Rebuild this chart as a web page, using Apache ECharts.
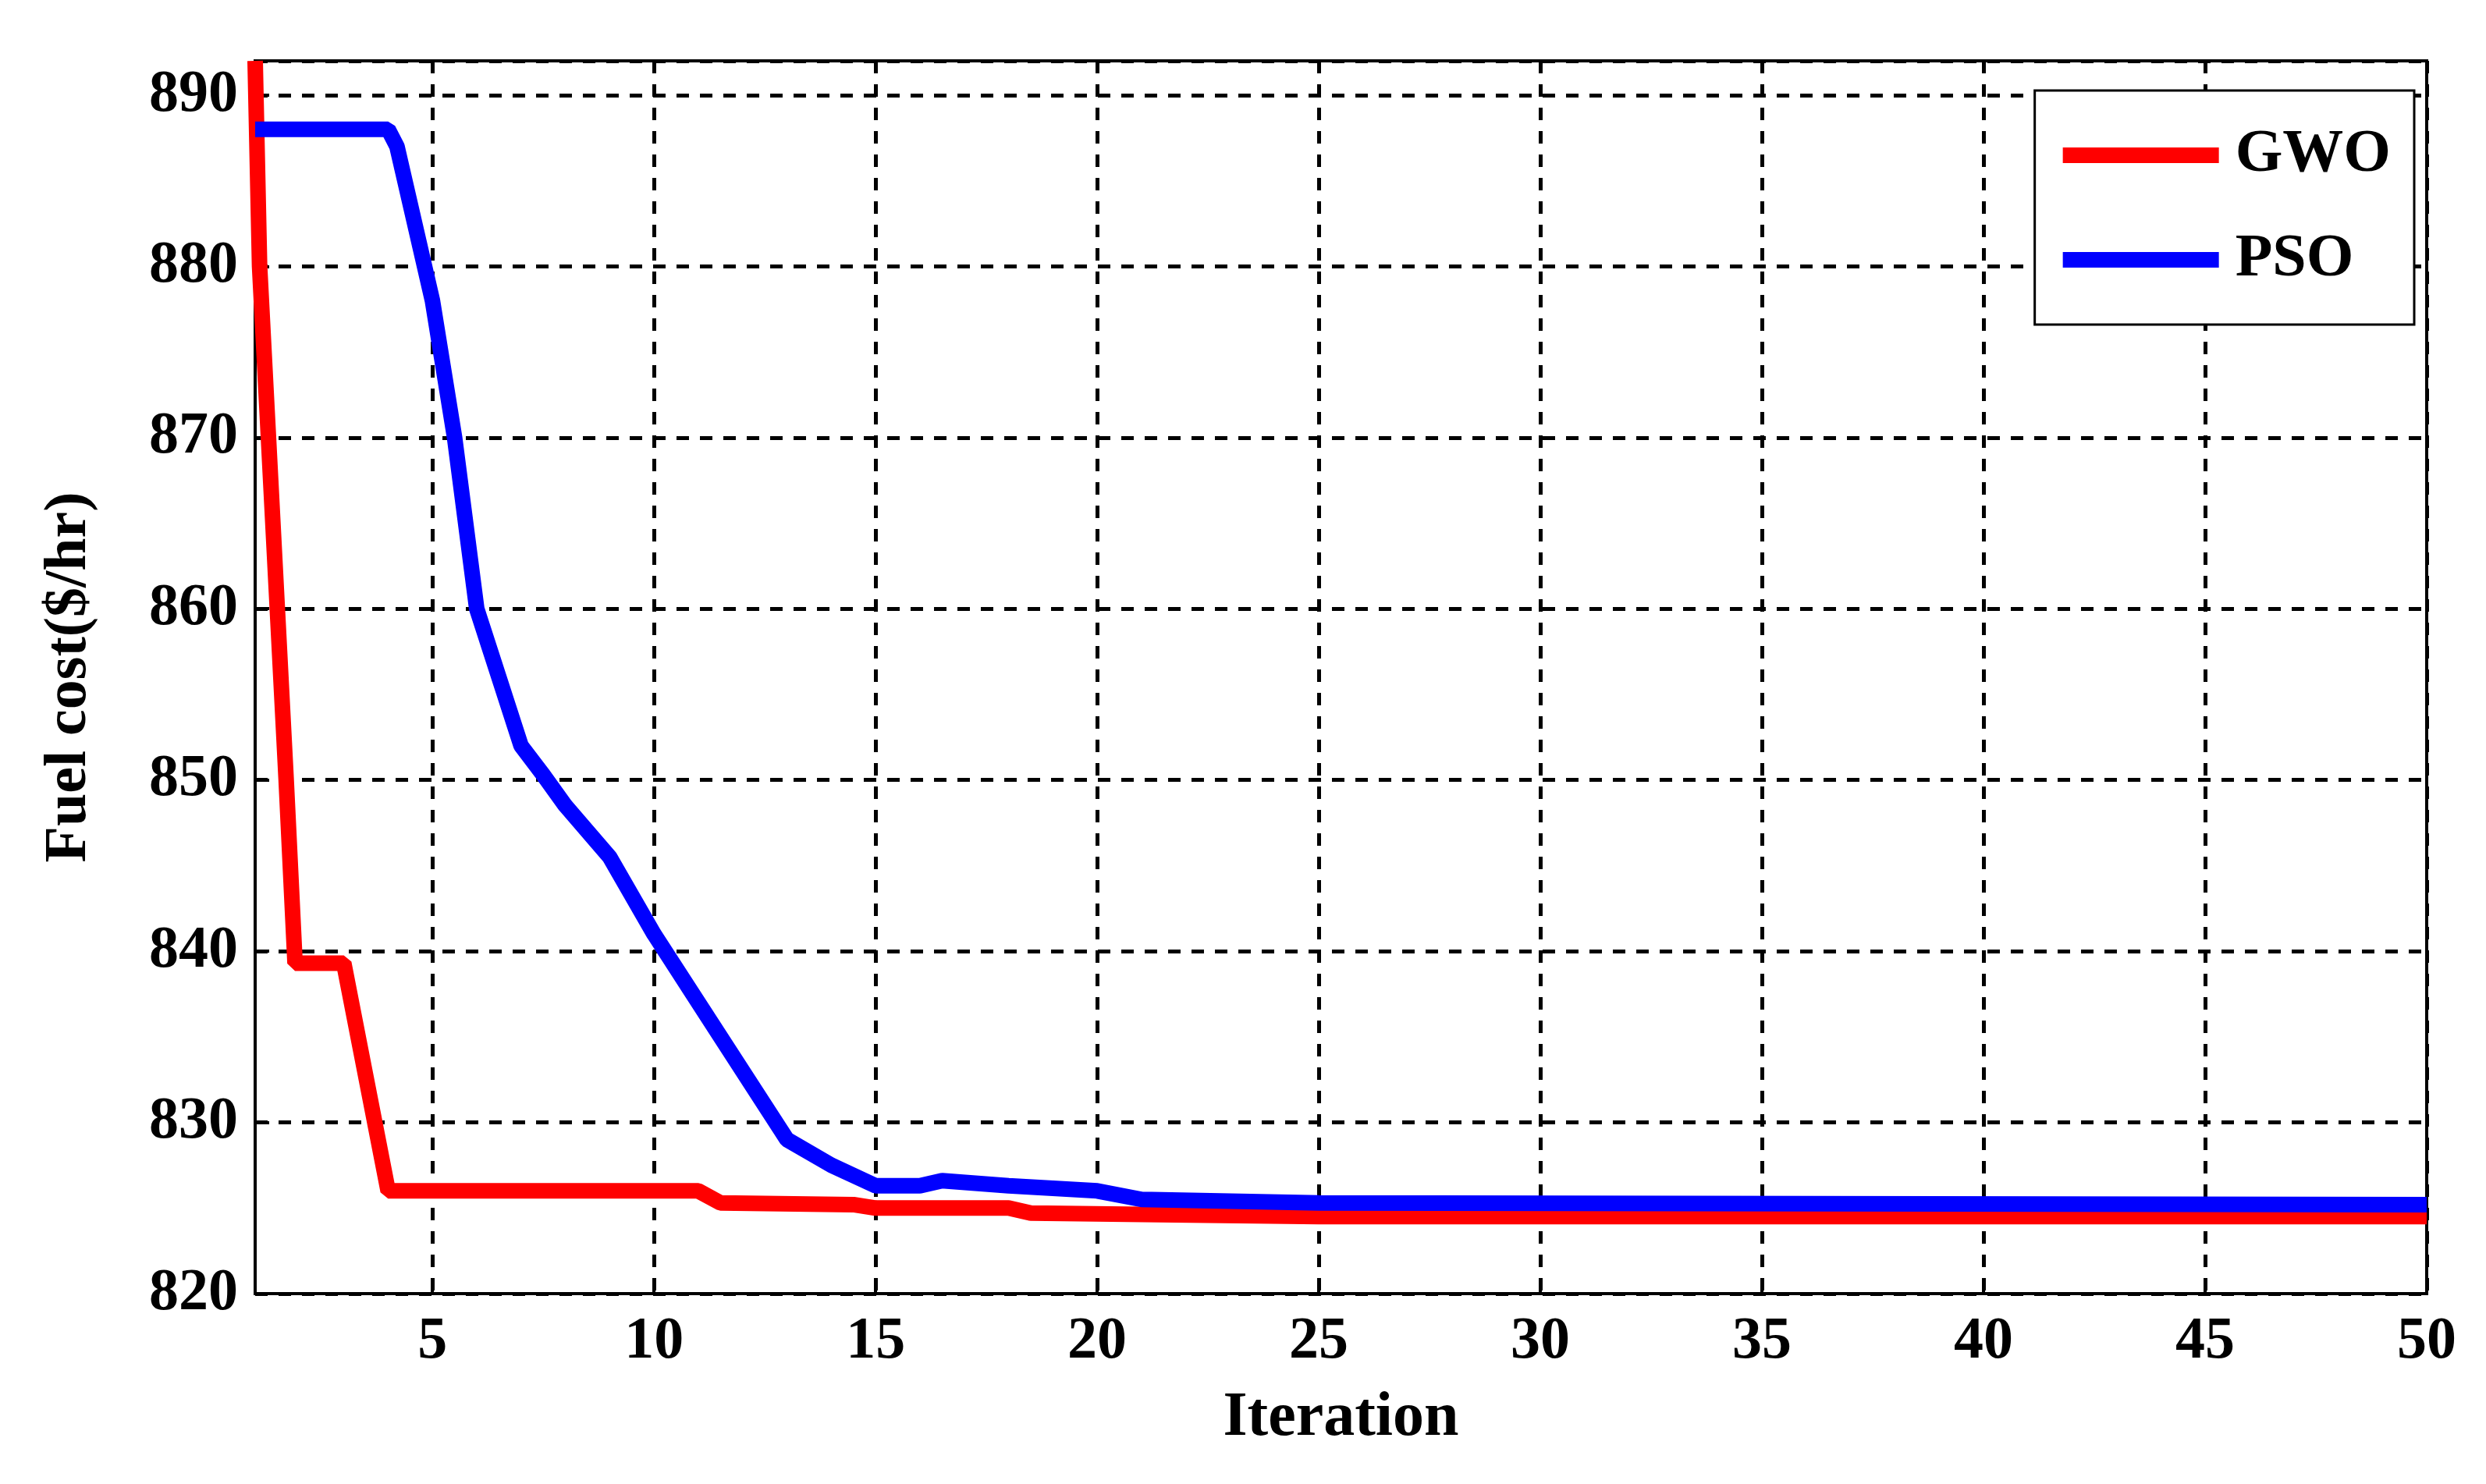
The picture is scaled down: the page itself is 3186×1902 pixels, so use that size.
<!DOCTYPE html>
<html><head><meta charset="utf-8">
<script src="https://cdn.jsdelivr.net/npm/echarts@6/dist/echarts.min.js"></script>
<style>html,body{margin:0;background:#fff}#chart{width:3186px;height:1902px}</style>
</head><body><div id="chart"></div>
<script>
// GWO convergence (iteration, cost)
var gwoIter = [1, 1.1, 1.3, 1.5, 1.7, 1.9, 3, 4, 11, 11.5, 14.5, 15, 18, 18.5, 25, 50];
var gwoCost = [892, 880, 870, 860, 850, 839.3, 839.3, 826, 826, 825.3, 825.2, 825, 825, 824.7, 824.5, 824.5];
// PSO convergence
var psoIter = [1, 4, 4.2, 5, 5.5, 6, 6.5, 7, 7.5, 8, 8.5, 9, 10, 11, 12, 13, 14, 15, 16, 16.5, 18, 20, 21, 25, 50];
var psoCost = [888, 888, 887, 878, 870, 860, 856, 852, 850.3, 848.5, 847, 845.5, 841, 837, 833, 829, 827.5, 826.3, 826.3, 826.6, 826.3, 826, 825.5, 825.3, 825.2];
var xTicks = [5, 10, 15, 20, 25, 30, 35, 40, 45, 50];

function pairs(xs, ys){
    var out = [];
    for (var i = 0; i < xs.length; i++) out.push([xs[i], ys[i]]);
    return out;
}

var font = '"Liberation Serif", "DejaVu Serif", serif';
var myChart = echarts.init(document.getElementById('chart'));
myChart.setOption({
    animation: false,
    backgroundColor: '#fff',
    grid: { left: 327, right: 76, top: 78, bottom: 244, show: true, borderColor: '#000', borderWidth: 4 },
    legend: {
        orient: 'vertical', right: 92, top: 116,
        backgroundColor: '#fff', borderColor: '#000', borderWidth: 3,
        padding: [44, 30, 44, 36], itemGap: 56,
        itemWidth: 200, itemHeight: 20,
        textStyle: { fontFamily: font, fontWeight: 'bold', fontSize: 78, color: '#000', padding: [0, 0, 0, 16] },
        data: [{ name: 'GWO', icon: 'rect' }, { name: 'PSO', icon: 'rect' }]
    },
    xAxis: {
        type: 'value', min: 1, max: 50,
        name: 'Iteration', nameLocation: 'middle', nameGap: 120,
        nameTextStyle: { fontFamily: font, fontWeight: 'bold', fontSize: 80, color: '#000' },
        axisLine: { lineStyle: { color: '#000', width: 4 } },
        axisTick: { inside: true, length: 18, customValues: xTicks, lineStyle: { color: '#000', width: 4 } },
        axisLabel: { customValues: xTicks, margin: 24, fontFamily: font, fontWeight: 'bold', fontSize: 76, color: '#000' },
        splitLine: { show: true, lineStyle: { color: '#000', width: 5, type: [16, 14] } }
    },
    yAxis: {
        type: 'value', min: 820, max: 892, interval: 10,
        name: 'Fuel cost($/hr)', nameLocation: 'middle', nameGap: 200,
        nameTextStyle: { fontFamily: font, fontWeight: 'bold', fontSize: 76, color: '#000' },
        axisLine: { lineStyle: { color: '#000', width: 4 } },
        axisTick: { inside: true, length: 18, lineStyle: { color: '#000', width: 4 } },
        axisLabel: { showMaxLabel: false, margin: 22, fontFamily: font, fontWeight: 'bold', fontSize: 76, color: '#000' },
        splitLine: { show: true, lineStyle: { color: '#000', width: 5, type: [16, 14] } }
    },
    series: [
        { name: 'GWO', type: 'line', data: pairs(gwoIter, gwoCost), showSymbol: false, z: 3,
          itemStyle: { color: '#ff0000' }, lineStyle: { color: '#ff0000', width: 20 } },
        { name: 'PSO', type: 'line', data: pairs(psoIter, psoCost), showSymbol: false, z: 4,
          itemStyle: { color: '#0000ff' }, lineStyle: { color: '#0000ff', width: 20 } }
    ]
});
</script></body></html>
